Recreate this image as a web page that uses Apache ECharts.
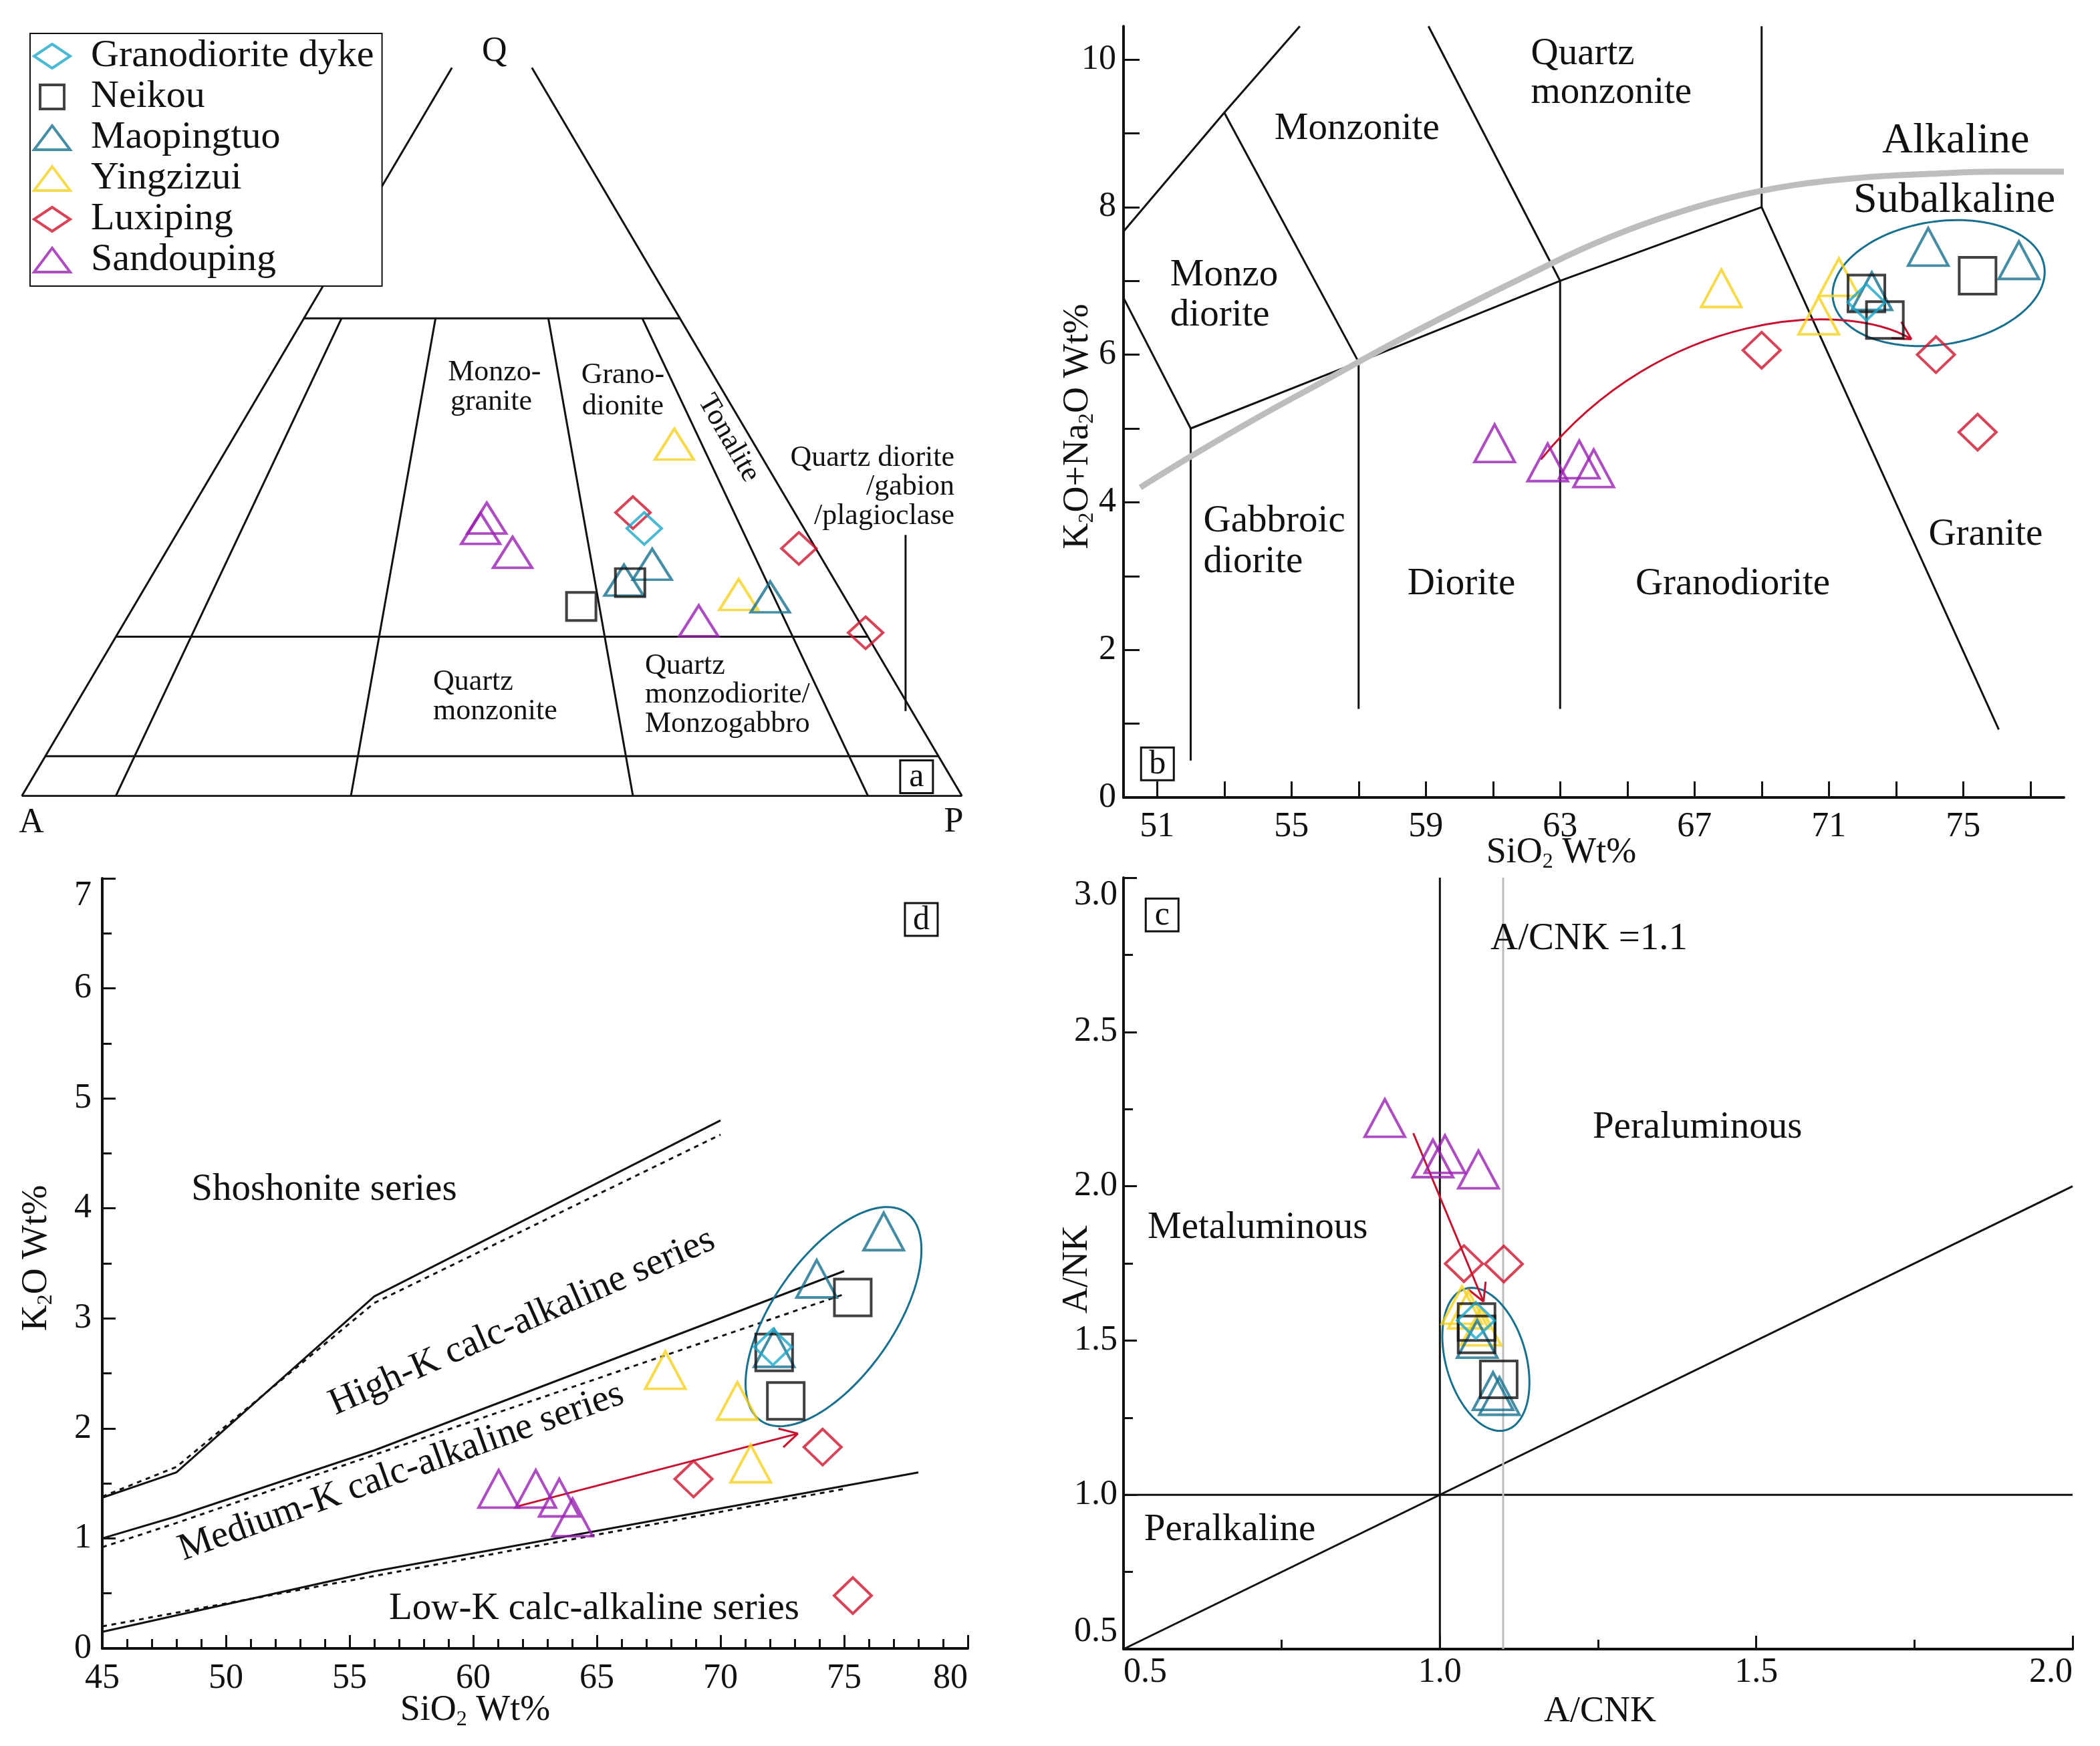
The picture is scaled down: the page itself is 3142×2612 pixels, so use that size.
<!DOCTYPE html>
<html><head><meta charset="utf-8">
<script src="https://cdn.jsdelivr.net/npm/echarts@6/dist/echarts.min.js"></script>
<style>html,body{margin:0;padding:0;background:#fff}#c{width:3142px;height:2612px}</style>
</head><body><div id="c"></div><script>
const FONT = "'Liberation Serif','Times New Roman',serif";
const SERIES_NAMES = ['Granodiorite dyke','Neikou','Maopingtuo','Yingzizui','Luxiping','Sandouping'];

// ---- Panel a: QAP ternary, each point [Q%, P%] (A% = 100 - Q - P)
const qapDyke = [[33.6,49.4]];
const qapNeikou = [[23.8,47.6],[26.8,51.3]];
const qapMaopingtuo = [[29.1,52.5],[27.1,50.5],[25.0,67.1]];
const qapYingzizui = [[44.2,47.3],[25.3,63.6]];
const qapLuxiping = [[35.6,47.2],[31.1,67.1],[20.5,79.5]];
const qapSandouping = [[34.9,32.0],[33.6,32.0],[30.6,36.9],[22.0,61.0]];

// ---- Panel b: TAS [SiO2, K2O+Na2O]
const tasDyke = [[72.12,6.71]];
const tasNeikou = [[72.12,6.83],[72.67,6.47],[75.43,7.07]];
const tasMaopingtuo = [[73.96,7.46],[76.66,7.28],[72.28,6.86]];
const tasYingzizui = [[67.8,6.9],[71.3,7.05],[70.7,6.53]];
const tasLuxiping = [[69.0,6.06],[74.19,6.0],[75.43,4.95]];
const tasSandouping = [[61.05,4.8],[62.63,4.54],[63.57,4.58],[64.0,4.46]];

// ---- Panel d: [SiO2, K2O]
const kDyke = [[72.12,2.74]];
const kNeikou = [[72.17,2.69],[72.64,2.25],[75.35,3.19]];
const kMaopingtuo = [[76.6,3.79],[73.89,3.36],[72.17,2.73]];
const kYingzizui = [[67.77,2.53],[70.68,2.25],[71.22,1.68]];
const kLuxiping = [[68.91,1.54],[74.13,1.83],[75.35,0.48]];
const kSandouping = [[61.03,1.45],[62.53,1.45],[63.48,1.37],[64.02,1.19]];

// ---- Panel c: [A/CNK, A/NK]
const acnkDyke = [[1.057,1.565]];
const acnkNeikou = [[1.058,1.56],[1.058,1.52],[1.093,1.374]];
const acnkMaopingtuo = [[1.059,1.505],[1.084,1.336],[1.094,1.32]];
const acnkYingzizui = [[1.035,1.615],[1.045,1.60],[1.065,1.545]];
const acnkLuxiping = [[1.038,1.749],[1.101,1.748]];
const acnkSandouping = [[0.913,2.221],[0.989,2.09],[1.008,2.104],[1.061,2.054]];

// ---- Axis tick values
const tasXLabels = [51,55,59,63,67,71,75];
const tasXTicks = [51,53,55,57,59,61,63,65,67,69,71,73,75,77];
const tasYLabels = [0,2,4,6,8,10];
const tasYTicks = [0,1,2,3,4,5,6,7,8,9,10];

// ---- Classification boundaries
const qapLines = [
  [[0,0],[91.5,0]], [[0,100],[91.5,8.5]], [[0,0],[0,100]],
  [[60,0],[60,40]], [[20,0],[20,80]], [[5,0],[5,95]],
  [[0,10],[60,4]], [[0,35],[60,14]], [[0,65],[60,26]], [[0,90],[60,36]]
];
const tasLines = [
  [[52,0.5],[52,5],[57,5.9],[63,7],[69,8],[76.06,0.92]],
  [[50,6.77],[52,5]],
  [[50,7.67],[53,9.28],[55.25,10.45]],
  [[53,9.28],[57,5.9]],
  [[57,5.9],[57,1.2]],
  [[59.08,10.45],[63,7],[63,1.2]],
  [[69,10.45],[69,8]]
];
const alkalineCurve = [[50.5,4.2],[52,4.62],[54,5.15],[56,5.65],[58,6.15],[60,6.62],[62,7.07],[64,7.5],[66,7.85],[68,8.12],[70,8.3],[72,8.4],[74,8.45],[76,8.48],[78,8.48]];
const kSolid = [
  [[45,1.37],[48,1.6],[56,3.2],[70,4.8]],
  [[45,1.0],[48,1.2],[56,1.8],[75,3.43]],
  [[45,0.15],[56,0.7],[78,1.6]]
];
const kDotted = [
  [[45,1.38],[48,1.65],[56,3.14],[70,4.67]],
  [[45,0.92],[48,1.14],[56,1.76],[75,3.22]],
  [[45,0.2],[75,1.45]]
];
const acnkLines = [[[1,0.5],[1,3]], [[0.5,1],[2,1]], [[0.5,0.5],[2,2]]];
const acnkGrey = [[1.1,0.5],[1.1,3]];

// ---- trend arrows
const arrowB = [[62.43,4.58],[66,6.6],[71.5,6.75],[73.46,6.21]];
const arrowD = [[61.85,1.295],[73.13,1.953]];
const arrowC = [[0.958,2.172],[1.069,1.626]];

const COLORS = {'Granodiorite dyke':'#1ba7c9','Neikou':'#111111','Maopingtuo':'#17708e','Yingzizui':'#f5d21f','Luxiping':'#d0142e','Sandouping':'#9a1fb2'};
const SYMBOLS = {'Granodiorite dyke':'diamond','Neikou':'rect','Maopingtuo':'triangle','Yingzizui':'triangle','Luxiping':'diamond','Sandouping':'triangle'};
const ICONS = {
  'Granodiorite dyke':'path://M27,0L54,18L27,36L0,18Z',
  'Neikou':'path://M0,0L36,0L36,36L0,36Z',
  'Maopingtuo':'path://M27,0L54,36L0,36Z',
  'Yingzizui':'path://M27,0L54,36L0,36Z',
  'Luxiping':'path://M27,0L54,18L27,36L0,18Z',
  'Sandouping':'path://M27,0L54,36L0,36Z'
};
const RED = '#c8102e';
const TEAL = '#17708e';

function tern(qp){ return [qp[1]/100 + qp[0]/200, qp[0]/100]; }

const sizeA = {diamond:[52,48], rect:[44,42], triangle:[58,46]};
const sizeB = {diamond:[56,54], rect:[55,55], triangle:[60,56]};

function scatter(name, data, gi, sizes){
  return {type:'scatter', name, xAxisIndex:gi, yAxisIndex:gi, data,
    symbol:SYMBOLS[name], symbolSize:sizes[SYMBOLS[name]], silent:true, z:5,
    itemStyle:{color:'transparent', borderColor:COLORS[name], borderWidth:4},
    emphasis:{disabled:true}, animation:false};
}
function poly(data, gi, ls, extra){
  return Object.assign({type:'line', xAxisIndex:gi, yAxisIndex:gi, data, symbol:'none', silent:true, z:2,
    lineStyle:Object.assign({color:'#111', width:3}, ls||{}), emphasis:{disabled:true}, animation:false}, extra||{});
}
function annoSeries(list, gi){
  return {type:'custom', xAxisIndex:gi, yAxisIndex:gi, silent:true, z:6, clip:false, animation:false,
    data: list.map(a=>[a.x,a.y]),
    renderItem:(params, api)=>{
      const a = list[params.dataIndex];
      const p = api.coord([a.x,a.y]);
      if (a.box) {
        return {type:'group', x:p[0], y:p[1], children:[
          {type:'rect', shape:{x:-24.5,y:-24.5,width:49,height:49}, style:{fill:'#fff', stroke:'#111', lineWidth:3}},
          {type:'text', style:{x:0, y:1, text:a.t, fontFamily:FONT, fontSize:50, fill:'#111', align:'center', verticalAlign:'middle'}}
        ]};
      }
      return {type:'text', x:p[0], y:p[1], rotation:(a.rot||0)*Math.PI/180,
        style:{text:a.t, fontFamily:FONT, fontSize:a.fs||56, fill:'#111', align:a.align||'center', verticalAlign:'middle'}};
    }};
}
function ellipseSeries(spec, gi){
  return {type:'custom', xAxisIndex:gi, yAxisIndex:gi, silent:true, z:4, clip:false, animation:false,
    data:[[spec.cx, spec.cy]],
    renderItem:(params, api)=>{
      const c = api.coord([spec.cx, spec.cy]);
      const th = spec.angle*Math.PI/180;
      const pts = [];
      for (let i=0;i<120;i++){
        const t = i/120*2*Math.PI;
        const u = spec.a*Math.cos(t), v = spec.b*Math.sin(t);
        pts.push([c[0]+u*Math.cos(th)-v*Math.sin(th), c[1]+u*Math.sin(th)+v*Math.cos(th)]);
      }
      return {type:'polygon', shape:{points:pts}, style:{fill:'none', stroke:TEAL, lineWidth:3}};
    }};
}
function arrowSeries(pts, gi){
  return {type:'custom', xAxisIndex:gi, yAxisIndex:gi, silent:true, z:4, clip:false, animation:false,
    data:[pts[0]],
    renderItem:(params, api)=>{
      const P = pts.map(p=>api.coord(p));
      const children = [];
      const st = {stroke:RED, lineWidth:3, fill:'none'};
      let tail;
      if (P.length === 4) {
        children.push({type:'bezierCurve', shape:{x1:P[0][0],y1:P[0][1],cpx1:P[1][0],cpy1:P[1][1],cpx2:P[2][0],cpy2:P[2][1],x2:P[3][0],y2:P[3][1]}, style:st});
        tail = P[2];
      } else {
        children.push({type:'line', shape:{x1:P[0][0],y1:P[0][1],x2:P[1][0],y2:P[1][1]}, style:st});
        tail = P[0];
      }
      const end = P[P.length-1];
      const ang = Math.atan2(end[1]-tail[1], end[0]-tail[0]);
      [ang+Math.PI-0.5, ang+Math.PI+0.5].forEach(a=>{
        children.push({type:'line', shape:{x1:end[0],y1:end[1],x2:end[0]+30*Math.cos(a),y2:end[1]+30*Math.sin(a)}, style:st});
      });
      return {type:'group', children};
    }};
}

const annA = [
  {t:'Q', x:0.5027, y:0.935, fs:52},
  {t:'A', x:0.0102, y:-0.034, fs:52},
  {t:'P', x:0.9913, y:-0.033, fs:52},
  {t:'a', x:0.9517, y:0.024, box:true},
  {t:'Monzo-', x:0.5027, y:0.5315, fs:44},
  {t:'granite', x:0.4993, y:0.4948, fs:44},
  {t:'Grano-', x:0.6393, y:0.5281, fs:44},
  {t:'dionite', x:0.6393, y:0.4894, fs:44},
  {t:'Tonalite', x:0.7517, y:0.4494, fs:44, rot:-60},
  {t:'Quartz diorite', x:0.992, y:0.4247, fs:44, align:'right'},
  {t:'/gabion', x:0.992, y:0.3881, fs:44, align:'right'},
  {t:'/plagioclase', x:0.992, y:0.3514, fs:44, align:'right'},
  {t:'Quartz', x:0.4375, y:0.1427, fs:44, align:'left'},
  {t:'monzonite', x:0.4375, y:0.1061, fs:44, align:'left'},
  {t:'Quartz', x:0.6628, y:0.1634, fs:44, align:'left'},
  {t:'monzodiorite/', x:0.6628, y:0.1267, fs:44, align:'left'},
  {t:'Monzogabbro', x:0.6628, y:0.090, fs:44, align:'left'}
];
const annB = [
  {t:'Monzonite', x:56.95, y:9.06, fs:57},
  {t:'Quartz', x:62.13, y:10.07, fs:57, align:'left'},
  {t:'monzonite', x:62.13, y:9.55, fs:57, align:'left'},
  {t:'Alkaline', x:74.78, y:8.89, fs:64},
  {t:'Subalkaline', x:74.74, y:8.09, fs:64},
  {t:'Monzo', x:51.39, y:7.07, fs:57, align:'left'},
  {t:'diorite', x:51.39, y:6.53, fs:57, align:'left'},
  {t:'Gabbroic', x:52.38, y:3.74, fs:57, align:'left'},
  {t:'diorite', x:52.38, y:3.19, fs:57, align:'left'},
  {t:'Diorite', x:60.06, y:2.89, fs:57},
  {t:'Granodiorite', x:68.14, y:2.89, fs:57},
  {t:'Granite', x:75.67, y:3.56, fs:57},
  {t:'b', x:51.01, y:0.455, box:true}
];
const annD = [
  {t:'Shoshonite series', x:53.97, y:4.17, fs:57},
  {t:'High-K calc-alkaline series', x:61.98, y:2.965, fs:57, rot:23.7},
  {t:'Medium-K calc-alkaline series', x:57.09, y:1.603, fs:57, rot:19.6},
  {t:'Low-K calc-alkaline series', x:64.89, y:0.36, fs:57},
  {t:'d', x:78.12, y:6.626, box:true}
];
const annC = [
  {t:'A/CNK =1.1', x:1.08, y:2.801, fs:57, align:'left'},
  {t:'Peraluminous', x:1.407, y:2.19, fs:57},
  {t:'Metaluminous', x:0.712, y:1.865, fs:57},
  {t:'Peralkaline', x:0.668, y:0.886, fs:57},
  {t:'c', x:0.561, y:2.879, box:true}
];

const AXL = {show:true, onZero:false, lineStyle:{color:'#111', width:4}};
const LBL = {fontFamily:FONT, fontSize:52, color:'#111'};
const TICK = {color:'#111', width:3};

const xAxis = [
  {gridIndex:0, type:'value', min:0, max:1, show:false},
  {gridIndex:1, type:'value', min:50, max:78, axisLine:AXL, splitLine:{show:false},
    axisTick:{show:true, inside:true, length:24, lineStyle:TICK, customValues:tasXTicks},
    axisLabel:Object.assign({margin:18, customValues:tasXLabels}, LBL)},
  {gridIndex:2, type:'value', min:45, max:80, interval:5, axisLine:AXL, splitLine:{show:false},
    axisTick:{show:true, inside:true, length:20, lineStyle:TICK},
    minorTick:{show:true, splitNumber:5, length:14, lineStyle:TICK},
    axisLabel:Object.assign({margin:19, alignMaxLabel:'right'}, LBL)},
  {gridIndex:3, type:'value', min:0.5, max:2, interval:0.5, axisLine:AXL, splitLine:{show:false},
    axisTick:{show:true, inside:true, length:20, lineStyle:TICK},
    minorTick:{show:true, splitNumber:2, length:14, lineStyle:TICK},
    axisLabel:Object.assign({margin:9, alignMinLabel:'left', alignMaxLabel:'right', formatter:v=>v.toFixed(1)}, LBL)}
];
const yAxis = [
  {gridIndex:0, type:'value', min:0, max:1, show:false},
  {gridIndex:1, type:'value', min:0, max:10.45, axisLine:AXL, splitLine:{show:false},
    axisTick:{show:true, inside:true, length:24, lineStyle:TICK, customValues:tasYTicks},
    axisLabel:Object.assign({margin:11, customValues:tasYLabels}, LBL)},
  {gridIndex:2, type:'value', min:0, max:7, interval:1, axisLine:AXL, splitLine:{show:false},
    axisTick:{show:true, inside:true, length:20, lineStyle:TICK},
    minorTick:{show:true, splitNumber:2, length:14, lineStyle:TICK},
    axisLabel:Object.assign({margin:16, verticalAlignMaxLabel:'top'}, LBL)},
  {gridIndex:3, type:'value', min:0.5, max:3, interval:0.5, axisLine:AXL, splitLine:{show:false},
    axisTick:{show:true, inside:true, length:20, lineStyle:TICK},
    minorTick:{show:true, splitNumber:2, length:14, lineStyle:TICK},
    axisLabel:Object.assign({margin:9, verticalAlignMinLabel:'bottom', verticalAlignMaxLabel:'top', formatter:v=>v.toFixed(1)}, LBL)}
];

const series = [];
qapLines.forEach(l=>series.push(poly(l.map(tern), 0)));
series.push(poly([[0.94,0.328],[0.94,0.1067]], 0));
tasLines.forEach(l=>series.push(poly(l, 1)));
series.push(poly(alkalineCurve, 1, {color:'#bdbdbd', width:9}, {smooth:0.4}));
kSolid.forEach(l=>series.push(poly(l, 2)));
kDotted.forEach(l=>series.push(poly(l, 2, {type:[7,7]})));
acnkLines.forEach(l=>series.push(poly(l, 3)));
series.push(poly(acnkGrey, 3, {color:'#bbbbbb', width:3}));

series.push(ellipseSeries({cx:74.27, cy:6.97, a:160, b:92, angle:-9}, 1));
series.push(ellipseSeries({cx:74.57, cy:3.016, a:190, b:90, angle:-55}, 2));
series.push(ellipseSeries({cx:1.0727, cy:1.439, a:110, b:60, angle:74}, 3));
series.push(arrowSeries(arrowB, 1));
series.push(arrowSeries(arrowD, 2));
series.push(arrowSeries(arrowC, 3));

const groups = {
  'Granodiorite dyke':[qapDyke, tasDyke, kDyke, acnkDyke],
  'Neikou':[qapNeikou, tasNeikou, kNeikou, acnkNeikou],
  'Maopingtuo':[qapMaopingtuo, tasMaopingtuo, kMaopingtuo, acnkMaopingtuo],
  'Yingzizui':[qapYingzizui, tasYingzizui, kYingzizui, acnkYingzizui],
  'Luxiping':[qapLuxiping, tasLuxiping, kLuxiping, acnkLuxiping],
  'Sandouping':[qapSandouping, tasSandouping, kSandouping, acnkSandouping]
};
SERIES_NAMES.slice().reverse().forEach(n=>{
  const g = groups[n];
  series.push(scatter(n, g[0].map(tern), 0, sizeA));
  series.push(scatter(n, g[1], 1, sizeB));
  series.push(scatter(n, g[2], 2, sizeB));
  series.push(scatter(n, g[3], 3, sizeB));
});

series.push(annoSeries(annA, 0));
series.push(annoSeries(annB, 1));
series.push(annoSeries(annD, 2));
series.push(annoSeries(annC, 3));

const rich = {s:{fontFamily:FONT, fontSize:32, lineHeight:30, verticalAlign:'bottom', fill:'#111'}};
function title(txt, x, y, rot){
  return {type:'text', x, y, rotation:rot||0, z:10,
    style:{text:txt, fontFamily:FONT, fontSize:54, lineHeight:60, fill:'#111', align:'center', verticalAlign:'middle', rich}};
}

const option = {
  animation:false,
  backgroundColor:'#fff',
  textStyle:{fontFamily:FONT},
  grid:[
    {left:32.7, top:-14.3, width:1406.6, height:1205},
    {left:1681, top:39.3, width:1407, height:1153.7},
    {left:153, top:1314, width:1295, height:1152},
    {left:1681, top:1313, width:1420, height:1154}
  ],
  xAxis, yAxis, series,
  legend:{
    left:45, top:50, orient:'vertical', z:10, selectedMode:false,
    backgroundColor:'#fff', borderColor:'#111', borderWidth:2, borderRadius:0,
    padding:[5,12,10,4], itemWidth:80, itemHeight:36, itemGap:3,
    textStyle:{fontFamily:FONT, fontSize:58, color:'#111', padding:[0,0,0,13]},
    data: SERIES_NAMES.map(n=>({name:n, icon:ICONS[n], itemStyle:{color:'transparent', borderColor:COLORS[n], borderWidth:4}}))
  },
  graphic:[
    title('SiO{s|2} Wt%', 2336, 1276),
    title('K{s|2}O+Na{s|2}O Wt%', 1613, 638, Math.PI/2),
    title('SiO{s|2} Wt%', 711, 2559),
    title('K{s|2}O Wt%', 55, 1882, Math.PI/2),
    title('A/CNK', 2394, 2561),
    title('A/NK', 1612, 1899, Math.PI/2)
  ]
};
const chart = echarts.init(document.getElementById('c'), null, {renderer:'canvas'});
chart.setOption(option);
</script></body></html>
